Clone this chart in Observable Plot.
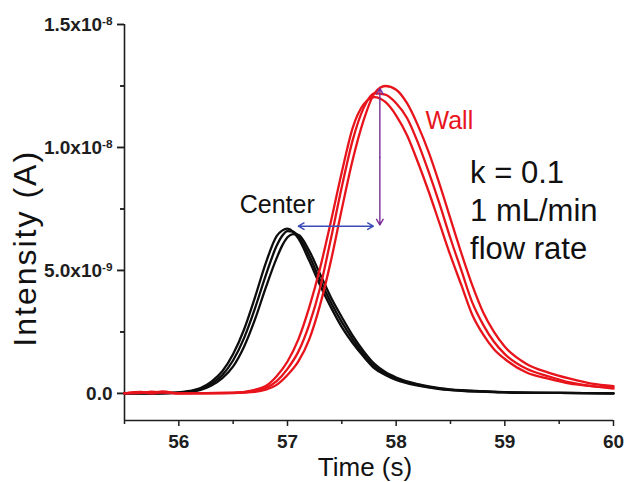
<!DOCTYPE html>
<html>
<head>
<meta charset="utf-8">
<script src="https://cdn.jsdelivr.net/npm/d3@7"></script>
<script src="https://cdn.jsdelivr.net/npm/@observablehq/plot@0.6"></script>
<style>
  body { margin: 0; background: #fff; }
  #chart svg { display: block; }
</style>
</head>
<body>
<div id="chart"></div>
<script>
// ---- Data (intensity values in units of 1e-9 A) ----
const blackTimes = [55.5, 55.8, 56.0, 56.1, 56.2, 56.3, 56.4, 56.5, 56.6, 56.7, 56.8, 56.9, 56.95, 57.0, 57.05, 57.1, 57.2, 57.3, 57.4, 57.5, 57.6, 57.7, 57.8, 57.9, 58.0, 58.2, 58.4, 58.6, 58.8, 59.0, 59.5, 60.0];
const centerRun1 = [0, 0, 0.04, 0.1, 0.22, 0.48, 0.9, 1.6, 2.6, 3.9, 5.3, 6.4, 6.62, 6.7, 6.58, 6.3, 5.4, 4.4, 3.5, 2.7, 2.05, 1.5, 1.02, 0.75, 0.55, 0.32, 0.18, 0.11, 0.07, 0.04, 0.02, 0];
const centerRun2 = [0, 0, 0.03, 0.08, 0.18, 0.4, 0.75, 1.35, 2.25, 3.45, 4.8, 6.0, 6.4, 6.6, 6.58, 6.4, 5.6, 4.6, 3.7, 2.9, 2.2, 1.6, 1.1, 0.8, 0.6, 0.35, 0.2, 0.12, 0.08, 0.05, 0.02, 0];
const centerRun3 = [0, 0, 0.02, 0.06, 0.14, 0.32, 0.62, 1.1, 1.9, 3.0, 4.3, 5.5, 6.0, 6.35, 6.48, 6.45, 5.8, 4.85, 3.9, 3.1, 2.35, 1.72, 1.2, 0.87, 0.65, 0.38, 0.22, 0.13, 0.09, 0.05, 0.02, 0];

const redTimes = [55.5, 55.65, 55.75, 55.85, 56.0, 56.5, 56.7, 56.8, 56.9, 57.0, 57.1, 57.2, 57.3, 57.4, 57.5, 57.6, 57.7, 57.8, 57.9, 58.0, 58.1, 58.2, 58.3, 58.4, 58.5, 58.6, 58.7, 58.8, 58.9, 59.0, 59.2, 59.4, 59.6, 59.8, 60.0];
const wallRun1 = [0, 0.02, 0.07, 0.03, 0, 0.01, 0.06, 0.15, 0.35, 0.75, 1.3, 2.2, 3.6, 5.4, 7.5, 9.5, 11.1, 12.2, 12.5, 12.35, 11.8, 10.9, 9.8, 8.5, 7.1, 5.7, 4.4, 3.3, 2.5, 1.9, 1.2, 0.85, 0.6, 0.4, 0.3];
const wallRun2 = [0, 0.06, 0.02, 0.08, 0, 0.02, 0.1, 0.22, 0.5, 1.0, 1.7, 2.8, 4.3, 6.3, 8.4, 10.3, 11.6, 12.2, 12.15, 11.8, 11.2, 10.2, 9.0, 7.7, 6.3, 5.0, 3.7, 2.8, 2.1, 1.6, 1.0, 0.7, 0.45, 0.3, 0.25];
const wallRun3 = [0, 0.04, 0.0, 0.05, 0, 0.03, 0.15, 0.3, 0.7, 1.3, 2.2, 3.5, 5.1, 7.0, 9.0, 10.8, 11.75, 12.05, 11.85, 11.3, 10.5, 9.4, 8.2, 6.9, 5.6, 4.4, 3.2, 2.4, 1.8, 1.4, 0.85, 0.6, 0.4, 0.3, 0.2];

const xMajorTicks = [56, 57, 58, 59, 60];
const xMinorTicks = [55.5, 56.5, 57.5, 58.5, 59.5];
const yMajorTicks = [0, 5e-9, 1e-8, 1.5e-8];
const yMajorLabels = ["0.0", "5.0x10^-9", "1.0x10^-8", "1.5x10^-8"];
const yMinorTicks = [2.5e-9, 7.5e-9, 1.25e-8];

// arrows (time s, intensity A)
const blueArrowX = [57.45, 57.1, 57.79];
const blueArrowY = [6.8e-9];
const purpleArrowX = [57.85];
const purpleArrowY = [9.6e-9, 12.4e-9, 6.85e-9];

// annotation labels
const labelTexts = ["Center", "Wall", "k = 0.1\n1 mL/min\nflow rate"];
const labelX = [56.56, 58.27, 58.68];
const labelY = [7.32e-9, 10.77e-9, 9.63e-9];
const yTitleY = [5.9e-9];

const xDomain = [55.5, 60];
const yDomain = [-1.1e-9, 1.5e-8];

// ---- Build table ----
const rows = [];
[["C1", centerRun1], ["C2", centerRun2], ["C3", centerRun3]].forEach(([id, vals]) =>
  vals.forEach((v, i) => rows.push({t: blackTimes[i], v: v * 1e-9, run: id, group: "Center"})));
[["W1", wallRun1], ["W2", wallRun2], ["W3", wallRun3]].forEach(([id, vals]) =>
  vals.forEach((v, i) => rows.push({t: redTimes[i], v: v * 1e-9, run: id, group: "Wall"})));

const arrows = [
  {x1: blueArrowX[0], y1: blueArrowY[0], x2: blueArrowX[1], y2: blueArrowY[0], c: "#3b4cb8"},
  {x1: blueArrowX[0], y1: blueArrowY[0], x2: blueArrowX[2], y2: blueArrowY[0], c: "#3b4cb8"},
  {x1: purpleArrowX[0], y1: purpleArrowY[0], x2: purpleArrowX[0], y2: purpleArrowY[1], c: "#7a2e96"},
  {x1: purpleArrowX[0], y1: purpleArrowY[0], x2: purpleArrowX[0], y2: purpleArrowY[2], c: "#7a2e96"}
];

const FONT = "'Liberation Sans', Arial, Helvetica, sans-serif";
const axisColor = "#1e1e1e";

const plot = Plot.plot({
  width: 630,
  height: 482,
  marginLeft: 124,
  marginRight: 17,
  marginTop: 24,
  marginBottom: 62,
  style: {fontFamily: FONT, background: "#fff", overflow: "visible"},
  x: {domain: xDomain},
  y: {domain: yDomain},
  marks: [
    Plot.axisX({ticks: xMajorTicks, tickSize: 6, tickPadding: 8, tickFormat: d => String(d),
      fontSize: 19, fontWeight: "bold", label: null, stroke: axisColor, fill: axisColor, strokeWidth: 1.5}),
    Plot.axisX({ticks: xMinorTicks, tickSize: 4, tickFormat: () => "", label: null, stroke: axisColor, strokeWidth: 1.5}),
    Plot.axisY({ticks: yMajorTicks, tickSize: 7, tickPadding: 5,
      tickFormat: d => yMajorLabels[yMajorTicks.indexOf(d)],
      fontSize: 19, fontWeight: "bold", label: null, stroke: axisColor, fill: axisColor, strokeWidth: 1.5}),
    Plot.axisY({ticks: yMinorTicks, tickSize: 4, tickFormat: () => "", label: null, stroke: axisColor, strokeWidth: 1.5}),
    // outward tick marks on the y axis (major 7px, minor 4px)
    Plot.ruleY(yMajorTicks, {x1: xDomain[0], x2: xDomain[0], insetLeft: -7, stroke: axisColor, strokeWidth: 1.5}),
    Plot.ruleY(yMinorTicks, {x1: xDomain[0], x2: xDomain[0], insetLeft: -4, stroke: axisColor, strokeWidth: 1.5}),
    Plot.ruleX([xDomain[0]], {stroke: axisColor, strokeWidth: 1.6}),
    Plot.ruleY([yDomain[0]], {stroke: axisColor, strokeWidth: 1.6}),
    Plot.line(rows.filter(d => d.group === "Center"), {x: "t", y: "v", z: "run", stroke: "#0d0d0d", strokeWidth: 2.3, curve: "monotone-x"}),
    Plot.line(rows.filter(d => d.group === "Wall"), {x: "t", y: "v", z: "run", stroke: "#e8141c", strokeWidth: 2.3, curve: "monotone-x"}),
    Plot.arrow(arrows, {x1: "x1", y1: "y1", x2: "x2", y2: "y2", stroke: "c", strokeWidth: 1.4, headLength: 7}),
    Plot.text([0], {x: () => labelX[0], y: () => labelY[0], text: () => labelTexts[0], fontSize: 25, fill: "#111", textAnchor: "start", lineAnchor: "bottom"}),
    Plot.text([1], {x: () => labelX[1], y: () => labelY[1], text: () => labelTexts[1], fontSize: 25, fill: "#e8141c", textAnchor: "start", lineAnchor: "bottom"}),
    Plot.text([2], {x: () => labelX[2], y: () => labelY[2], text: () => labelTexts[2], fontSize: 31, fill: "#111", textAnchor: "start", lineAnchor: "top", lineHeight: 1.22}),
    Plot.text(["Time (s)"], {frameAnchor: "bottom", dx: -4, dy: 55, text: d => d, fontSize: 26, fill: "#111", textAnchor: "middle", lineAnchor: "bottom"}),
    Plot.text(["Intensity (A)"], {frameAnchor: "left", y: () => yTitleY[0], dx: -99, rotate: -90, text: d => d, fontSize: 32, fill: "#111", textAnchor: "middle", lineAnchor: "middle"})
  ]
});

// superscripts + letter spacing post-processing (text stays real text)
plot.querySelectorAll("text").forEach(t => {
  const s = t.textContent;
  if (s.includes("^")) {
    const [base, exp] = s.split("^");
    t.textContent = base;
    const ts = document.createElementNS("http://www.w3.org/2000/svg", "tspan");
    ts.setAttribute("dy", "-0.5em");
    ts.setAttribute("font-size", "0.62em");
    ts.textContent = exp;
    t.appendChild(ts);
  }
  if (s === "Intensity (A)") t.setAttribute("letter-spacing", "2");
});

document.getElementById("chart").appendChild(plot);
</script>
</body>
</html>
